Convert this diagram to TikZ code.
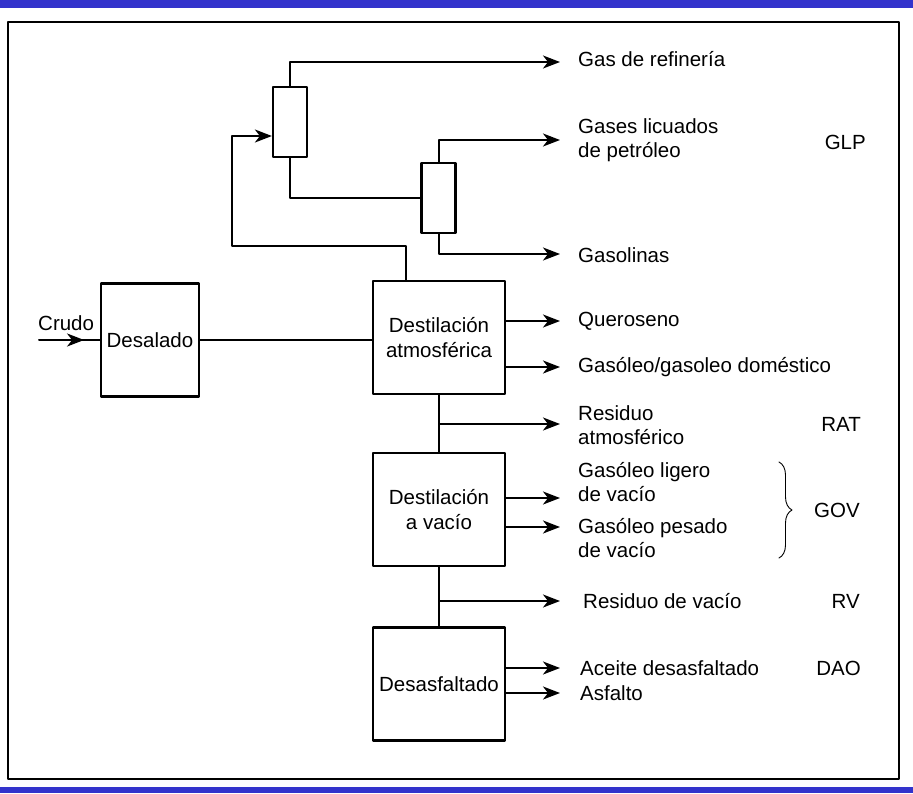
\documentclass[tikz,border=0pt]{standalone}
\usepackage{fontspec}
\setmainfont{Liberation Sans}
\usetikzlibrary{arrows.meta,decorations.pathreplacing,decorations.markings}
\definecolor{barra}{RGB}{51,51,204}
\tikzset{
  caja/.style={draw, line width=2.2pt, minimum width=132pt, minimum height=113pt, inner sep=0pt, align=center},
  torre/.style={draw, line width=2.2pt, minimum width=34pt, minimum height=70pt, inner sep=0pt},
  etiq/.style={anchor=west, inner sep=0pt, align=left},
  sigla/.style={anchor=east, inner sep=0pt},
  flujo/.style={line width=2pt}
}
\begin{document}
\begin{tikzpicture}[x=1pt, y=-1pt, font=\fontsize{20.5}{24.5}\selectfont, line join=round, line cap=round, >={Stealth[length=17pt,width=13pt,inset=5pt]}]
		\useasboundingbox (0,0) rectangle (913,793);
		\fill[barra] (0,0) rectangle (913,8);
		\fill[barra] (0,787) rectangle (913,793);
		\draw[line width=1.4pt] (8,22) rectangle (899,779);
		% unidades
		\node[caja, minimum width=98pt] (desal) at (150,340) {Desalado};
		\node[caja] (datm) at (439,337.5) {Destilación\\atmosférica};
		\node[caja] (dvac) at (439,509.5) {Destilación\\a vacío};
		\node[caja] (dasf) at (439,684) {Desasfaltado};
		\node[torre] (torA) at (290,122) {};
		\node[torre] (torB) at (438.5,198) {};
		% extremos de las flechas
		\coordinate (crudo) at (39,340);
		\coordinate (pgas) at (560,62);
		\coordinate (pglp) at (560,140);
		\coordinate (pgsl) at (560,254);
		\coordinate (pqer) at (560,321);
		\coordinate (pgsd) at (560,367);
		\coordinate (prat) at (560,424);
		\coordinate (pgol) at (560,498);
		\coordinate (pgop) at (560,527);
		\coordinate (prv) at (560,601);
		\coordinate (pdao) at (560,668);
		\coordinate (pasf) at (560,693);
		% corrientes
		\draw[flujo, postaction={decorate}, decoration={markings, mark=at position 0.74 with {\arrow{>}}}] (crudo) -- (desal.west);
		\draw[flujo] (desal.east) -- (desal.east -| datm.west);
		\draw[flujo,->] ([xshift=-33pt]datm.north) |- (232,246) |- ([yshift=-14pt]torA.west);
		\draw[flujo,->] (torA.north) |- (pgas);
		\draw[flujo] (torA.south) |- (torB.west);
		\draw[flujo,->] (torB.north) |- (pglp);
		\draw[flujo,->] (torB.south) |- (pgsl);
		\draw[flujo,->] (datm.east |- pqer) -- (pqer);
		\draw[flujo,->] (datm.east |- pgsd) -- (pgsd);
		\draw[flujo] (datm.south) -- (dvac.north);
		\draw[flujo,->] (datm.south |- prat) -- (prat);
		\draw[flujo,->] (dvac.east |- pgol) -- (pgol);
		\draw[flujo,->] (dvac.east |- pgop) -- (pgop);
		\draw[flujo] (dvac.south) -- (dasf.north);
		\draw[flujo,->] (dvac.south |- prv) -- (prv);
		\draw[flujo,->] (dasf.east |- pdao) -- (pdao);
		\draw[flujo,->] (dasf.east |- pasf) -- (pasf);
		% productos
		\node[etiq] (lcrudo) at (38,323) {Crudo};
		\node[etiq] (lgas) at (578,59) {Gas de refinería};
		\node[etiq] (lglp) at (578,140) {Gases licuados\\de petróleo};
		\node[etiq] (lgsl) at (578,255) {Gasolinas};
		\node[etiq] (lqer) at (578,321) {Queroseno};
		\node[etiq] (lgsd) at (578,367) {Gasóleo/gasoleo doméstico};
		\node[etiq] (lrat) at (578,425) {Residuo\\atmosférico};
		\node[etiq] (lgol) at (578,482) {Gasóleo ligero\\de vacío};
		\node[etiq] (lgop) at (578,538) {Gasóleo pesado\\de vacío};
		\node[etiq] (lrv) at (583,601) {Residuo de vacío};
		\node[etiq] (ldao) at (580,668) {Aceite desasfaltado};
		\node[etiq] (lasf) at (580,693) {Asfalto};
		% siglas
		\node[sigla] (sglp) at (866,142) {GLP};
		\node[sigla] (srat) at (861,424) {RAT};
		\node[sigla] (sgov) at (860,510) {GOV};
		\node[sigla] (srv) at (860,601) {RV};
		\node[sigla] (sdao) at (861,668) {DAO};
		\draw[line width=0.9pt, decorate, decoration={brace, amplitude=13pt}] (779,462) -- (779,558);
\end{tikzpicture}
\end{document}
